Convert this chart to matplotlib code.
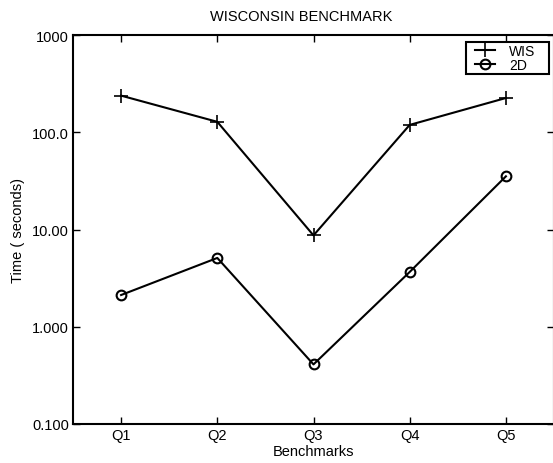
import matplotlib
matplotlib.use("Agg")
import matplotlib.pyplot as plt
from matplotlib.patches import Rectangle
from matplotlib.ticker import FixedLocator, FixedFormatter, NullLocator

plt.rcParams['font.family'] = ['Liberation Sans', 'DejaVu Sans']

queries = ['Q1', 'Q2', 'Q3', 'Q4', 'Q5']
wis = [238, 128, 8.7, 119, 225]
twod = [2.12, 5.1, 0.41, 3.66, 35.2]

ytick_vals = [0.1, 1, 10, 100, 1000]
ytick_labels = ['0.100', '1.000', '10.00', '100.0', '1000']

W, H = 553, 464
fig = plt.figure(figsize=(W / 100, H / 100), dpi=100)
ax = fig.add_axes([73 / W, 1 - 425 / H, (554 - 73) / W, (425 - 36) / H])

x = list(range(1, len(queries) + 1))
ax.plot(x, wis, color='black', lw=1.5, marker='+', ms=10, mew=1.2, label='WIS')
ax.plot(x, twod, color='black', lw=1.5, marker='o', ms=7, mew=1.5,
        markerfacecolor='none', label='2D')

ax.set_yscale('log')
ax.set_ylim(0.1, 1000)
ax.set_xlim(0.5, 5.5)
ax.yaxis.set_major_locator(FixedLocator(ytick_vals))
ax.yaxis.set_major_formatter(FixedFormatter(ytick_labels))
ax.yaxis.set_minor_locator(NullLocator())
ax.set_xticks(x)
ax.set_xticklabels(queries)

ax.tick_params(direction='in', top=True, right=True, length=5, width=1,
               labelsize=10.5, pad=3)
for sp in ax.spines.values():
    sp.set_linewidth(1.5)

fig.text(301 / W, 1 - 17 / H, 'WISCONSIN BENCHMARK', fontsize=10.5,
         ha='center', va='center')
ax.set_xlabel('Benchmarks', fontsize=10.5, labelpad=1)
ax.set_ylabel('Time ( seconds)', fontsize=10.5, labelpad=5)

# legend entries without frame, box drawn separately
leg = ax.legend(loc='upper left', fontsize=10, frameon=False,
                handlelength=1.45, handletextpad=1.0, borderpad=0,
                labelspacing=0.0, borderaxespad=0,
                bbox_to_anchor=(475 / W, 1 - 44.5 / H),
                bbox_transform=fig.transFigure)
fig.patches.append(Rectangle((466 / W, 1 - 75 / H), 83 / W, 32 / H,
                             transform=fig.transFigure, fill=False,
                             edgecolor='black', lw=1.5, zorder=5))

fig.savefig('out.png', dpi=100)
